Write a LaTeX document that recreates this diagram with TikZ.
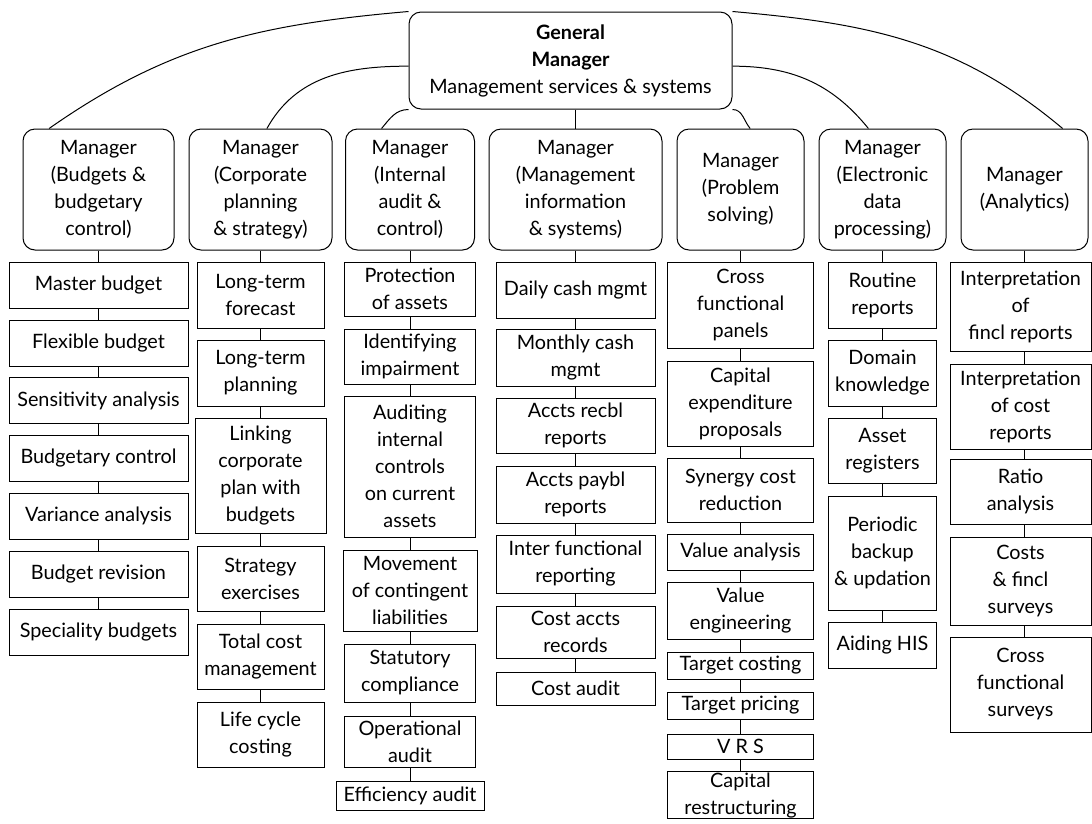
\documentclass[tikz,border=0pt]{standalone}
\usepackage{fontspec}
\setmainfont{Lato}

\begin{document}
\begin{tikzpicture}[x=1pt,y=1pt,line width=1pt,font=\fontsize{19.8}{27}\selectfont]
                        \tikzstyle{boss}=[draw, rounded corners=12pt, align=center, minimum width=323pt, minimum height=97pt]
                        \tikzstyle{mgr}=[draw, rounded corners=12pt, align=center, minimum height=121pt]
                        \tikzstyle{task}=[draw, align=center, inner sep=1pt]
                        \useasboundingbox (0,0) rectangle (1092,-823);
                        \node[boss] (gm) at (570.5,-60.5) {\textbf{General}\\\textbf{Manager}\\Management services \& systems};
                        \node[mgr, minimum width=151pt] (m1) at (98.5,-189.5) {Manager\\(Budgets \&\\budgetary\\control)};
                        \node[mgr, minimum width=143pt] (m2) at (260.5,-189.5) {Manager\\(Corporate\\planning\\\& strategy)};
                        \node[mgr, minimum width=129pt] (m3) at (410,-189.5) {Manager\\(Internal\\audit \&\\control)};
                        \node[mgr, minimum width=173pt] (m4) at (575.5,-189.5) {Manager\\(Management\\information\\\& systems)};
                        \node[mgr, minimum width=127pt] (m5) at (740.5,-189.5) {Manager\\(Problem\\solving)};
                        \node[mgr, minimum width=127pt] (m6) at (882.5,-189.5) {Manager\\(Electronic\\data\\processing)};
                        \node[mgr, minimum width=127pt] (m7) at (1024.5,-189.5) {Manager\\(Analytics)};
                        \node[task, minimum width=179pt, minimum height=46pt] (b1) at (98.5,-285) {Master budget};
                        \node[task, minimum width=179pt, minimum height=46pt] (b2) at (98.5,-343) {Flexible budget};
                        \node[task, minimum width=179pt, minimum height=46pt] (b3) at (98.5,-400.5) {Sensitivity analysis};
                        \node[task, minimum width=179pt, minimum height=46pt] (b4) at (98.5,-458.5) {Budgetary control};
                        \node[task, minimum width=179pt, minimum height=46pt] (b5) at (98.5,-516) {Variance analysis};
                        \node[task, minimum width=179pt, minimum height=46pt] (b6) at (98.5,-574.5) {Budget revision};
                        \node[task, minimum width=179pt, minimum height=46pt] (b7) at (98.5,-632) {Speciality budgets};
                        \node[task, minimum width=127pt, minimum height=66pt] (c1) at (260.5,-295) {Long-term\\forecast};
                        \node[task, minimum width=127pt, minimum height=66pt] (c2) at (260.5,-373) {Long-term\\planning};
                        \node[task, minimum width=131pt, minimum height=115pt] (c3) at (260.5,-475.5) {Linking\\corporate\\plan with\\budgets};
                        \node[task, minimum width=127pt, minimum height=65pt] (c4) at (260.5,-578.5) {Strategy\\exercises};
                        \node[task, minimum width=127pt, minimum height=65pt] (c5) at (260.5,-656.5) {Total cost\\management};
                        \node[task, minimum width=127pt, minimum height=65pt] (c6) at (260.5,-734.5) {Life cycle\\costing};
                        \node[task, minimum width=131pt, minimum height=54pt] (a1) at (410,-289) {Protection\\of assets};
                        \node[task, minimum width=131pt, minimum height=55pt] (a2) at (410,-356.5) {Identifying\\impairment};
                        \node[task, minimum width=131pt, minimum height=141pt] (a3) at (410,-466.5) {Auditing\\internal\\controls\\on current\\assets};
                        \node[task, minimum width=134pt, minimum height=81pt] (a4) at (410,-590.5) {Movement\\of contingent\\liabilities};
                        \node[task, minimum width=131pt, minimum height=58pt] (a5) at (410,-673) {Statutory\\compliance};
                        \node[task, minimum width=131pt, minimum height=51pt] (a6) at (410,-741.5) {Operational\\audit};
                        \node[task, minimum width=148pt, minimum height=29pt] (a7) at (410,-795.5) {Efficiency audit};
                        \node[task, minimum width=159pt, minimum height=56pt] (i1) at (575.5,-290) {Daily cash mgmt};
                        \node[task, minimum width=159pt, minimum height=57pt] (i2) at (575.5,-357.5) {Monthly cash\\mgmt};
                        \node[task, minimum width=159pt, minimum height=55pt] (i3) at (575.5,-425.5) {Accts recbl\\reports};
                        \node[task, minimum width=159pt, minimum height=57pt] (i4) at (575.5,-494.5) {Accts paybl\\reports};
                        \node[task, minimum width=159pt, minimum height=58pt] (i5) at (575.5,-564) {Inter functional\\reporting};
                        \node[task, minimum width=159pt, minimum height=52pt] (i6) at (575.5,-632) {Cost accts\\records};
                        \node[task, minimum width=159pt, minimum height=33pt] (i7) at (575.5,-688.5) {Cost audit};
                        \node[task, minimum width=146pt, minimum height=86pt] (p1) at (740.5,-305) {Cross\\functional\\panels};
                        \node[task, minimum width=146pt, minimum height=85pt] (p2) at (740.5,-403.5) {Capital\\expenditure\\proposals};
                        \node[task, minimum width=146pt, minimum height=64pt] (p3) at (740.5,-490) {Synergy cost\\reduction};
                        \node[task, minimum width=146pt, minimum height=36pt] (p4) at (740.5,-552) {Value analysis};
                        \node[task, minimum width=146pt, minimum height=57pt] (p5) at (740.5,-610.5) {Value\\engineering};
                        \node[task, minimum width=146pt, minimum height=27pt] (p6) at (740.5,-665.5) {Target costing};
                        \node[task, minimum width=146pt, minimum height=27pt] (p7) at (740.5,-705.5) {Target pricing};
                        \node[task, minimum width=146pt, minimum height=25pt] (p8) at (740.5,-746.5) {V R S};
                        \node[task, minimum width=146pt, minimum height=46pt] (p9) at (740.5,-795) {Capital\\restructuring};
                        \node[task, minimum width=108pt, minimum height=66pt] (e1) at (882.5,-295) {Routine\\reports};
                        \node[task, minimum width=108pt, minimum height=66pt] (e2) at (882.5,-373) {Domain\\knowledge};
                        \node[task, minimum width=108pt, minimum height=65pt] (e3) at (882.5,-450.5) {Asset\\registers};
                        \node[task, minimum width=108pt, minimum height=114pt] (e4) at (882.5,-553) {Periodic\\backup\\\& updation};
                        \node[task, minimum width=108pt, minimum height=46pt] (e5) at (882.5,-645) {Aiding HIS};
                        \node[task, minimum width=141pt, minimum height=89pt] (n1) at (1020.5,-306.5) {Interpretation\\of\\fincl reports};
                        \node[task, minimum width=141pt, minimum height=85pt] (n2) at (1020.5,-406.5) {Interpretation\\of cost\\reports};
                        \node[task, minimum width=141pt, minimum height=65pt] (n3) at (1020.5,-491.5) {Ratio\\analysis};
                        \node[task, minimum width=141pt, minimum height=88pt] (n4) at (1020.5,-581) {Costs\\\& fincl\\surveys};
                        \node[task, minimum width=141pt, minimum height=95pt] (n5) at (1020.5,-684.5) {Cross\\functional\\surveys};
                        \draw (gm.north west) to[out=185,in=35] (m1.129);
                        \draw (gm.182) to[out=180,in=61] (m2.84);
                        \draw (gm.south west) to[out=180,in=50] (m3.115);
                        \draw (gm.south -| m4.north) -- (m4.north);
                        \draw (gm.south east) to[out=0,in=130] (m5.81);
                        \draw (gm.-2) to[out=0,in=129] (m6.103);
                        \draw (gm.north east) to[out=-5,in=140] (m7.58);
                        \draw (m1) -- (b1) -- (b2) -- (b3) -- (b4) -- (b5) -- (b6) -- (b7);
                        \draw (m2) -- (c1) -- (c2) -- (c3) -- (c4) -- (c5) -- (c6);
                        \draw (m3) -- (a1) -- (a2) -- (a3) -- (a4) -- (a5) -- (a6) -- (a7);
                        \draw (m4) -- (i1) -- (i2) -- (i3) -- (i4) -- (i5) -- (i6) -- (i7);
                        \draw (m5) -- (p1) -- (p2) -- (p3) -- (p4) -- (p5) -- (p6) -- (p7) -- (p8) -- (p9);
                        \draw (m6) -- (e1) -- (e2) -- (e3) -- (e4) -- (e5);
                        \draw (m7.south) -- (m7.south |- n1.north);
                        \draw (n1.south -| m7.south) -- (n2.north -| m7.south);
                        \draw (n2.south -| m7.south) -- (n3.north -| m7.south);
                        \draw (n3.south -| m7.south) -- (n4.north -| m7.south);
                        \draw (n4.south -| m7.south) -- (n5.north -| m7.south);
                    \end{tikzpicture}
\end{document}
